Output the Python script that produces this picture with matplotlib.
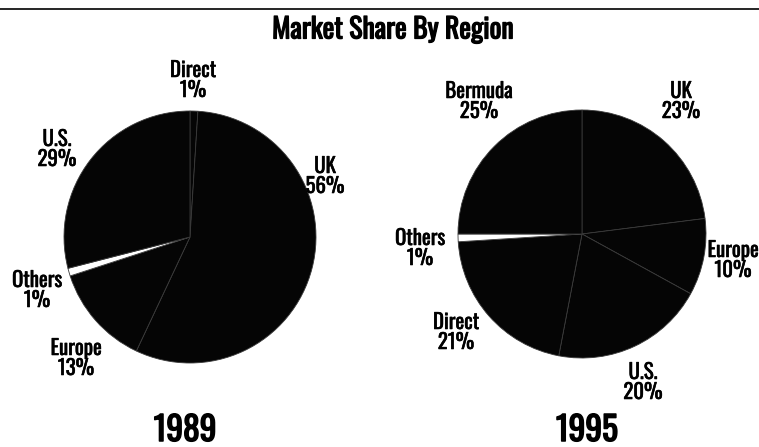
import matplotlib
matplotlib.use("Agg")
import matplotlib.pyplot as plt
import matplotlib.patheffects as pe

# market share by region
labels_1989 = ["Direct", "UK", "Europe", "Others", "U.S."]
share_1989 = [1, 56, 13, 1, 29]

labels_1995 = ["UK", "Europe", "U.S.", "Direct", "Others", "Bermuda"]
share_1995 = [23, 10, 20, 21, 1, 25]

W, H = 759, 447
plt.rcParams["font.family"] = ["Oswald", "Barlow Condensed", "Roboto Condensed", "DejaVu Sans"]

fig = plt.figure(figsize=(W / 100, H / 100), dpi=100)
fig.patch.set_facecolor("white")


def pie_axes(cx, cy, r):
    # cx, cy, r in pixels, y from top
    return fig.add_axes([(cx - r) / W, (H - cy - r) / H, 2 * r / W, 2 * r / H])


def draw_pie(ax, shares, labels):
    cols = ["white" if l == "Others" else "#050505" for l in labels]
    ax.pie(shares, startangle=90, counterclock=False, radius=1, colors=cols,
           wedgeprops=dict(edgecolor="#3a3a3a", linewidth=0.6))
    ax.set_xlim(-1, 1)
    ax.set_ylim(-1, 1)
    ax.set_aspect("equal")
    ax.axis("off")


def txt(x, y, s, size=15, stroke=0.4):
    # oswald only ships one weight here, thicken it a bit with a stroke
    fig.text(x / W, 1 - y / H, s, ha="center", va="center", fontsize=size,
             linespacing=1.0, color="black",
             path_effects=[pe.withStroke(linewidth=stroke, foreground="black")])


draw_pie(pie_axes(190, 237, 126), share_1989, labels_1989)
draw_pie(pie_axes(582, 234, 124), share_1995, labels_1995)

# top rule from the scanned page
fig.add_artist(plt.Line2D([0, 1], [1 - 9 / H, 1 - 9 / H], color="black", lw=1.2))

txt(393, 30, "Market Share By Region", size=20, stroke=0.9)

# 1989 labels
txt(193, 80, "Direct\n1%")
txt(57, 149, "U.S.\n29%")
txt(325, 176, "UK\n56%")
txt(37, 290, "Others\n1%")
txt(76, 358, "Europe\n13%")
txt(185, 430, "1989", size=24, stroke=1.1)

# 1995 labels
txt(479, 101, "Bermuda\n25%")
txt(681, 101, "UK\n23%")
txt(420, 248, "Others\n1%")
txt(733, 260, "Europe\n10%")
txt(456, 332, "Direct\n21%")
txt(643, 382, "U.S.\n20%")
txt(587, 430, "1995", size=24, stroke=1.1)

fig.savefig("out.png", dpi=100)
